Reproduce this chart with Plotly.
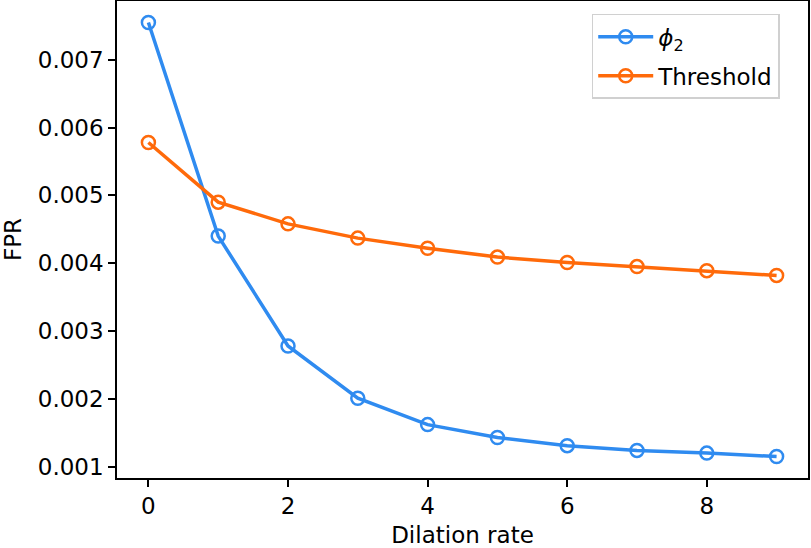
import plotly.graph_objects as go

dilation_rate = [0, 1, 2, 3, 4, 5, 6, 7, 8, 9]
phi2_fpr = [0.00755, 0.00440, 0.00278, 0.00201, 0.00162, 0.00143, 0.00131, 0.00124, 0.00120, 0.00115]
threshold_fpr = [0.00578, 0.00490, 0.00458, 0.00437, 0.00422, 0.00409, 0.00401, 0.00395, 0.00389, 0.00382]
y_ticks = [0.001, 0.002, 0.003, 0.004, 0.005, 0.006, 0.007]
x_ticks = [0, 2, 4, 6, 8]

BLUE = "#2f8bf0"
ORANGE = "#ff6a0a"
FONT = "DejaVu Sans"
FS = 23

fig = go.Figure()
fig.add_trace(go.Scatter(
    x=dilation_rate, y=phi2_fpr, mode="lines+markers", name="<i>ϕ</i><sub>2</sub>",
    legendgroup="g1",
    line=dict(color=BLUE, width=3.5),
    marker=dict(symbol="circle-open", size=13, line=dict(width=2.5, color=BLUE)),
))
fig.add_trace(go.Scatter(
    x=dilation_rate, y=threshold_fpr, mode="lines+markers", name="Threshold",
    legendgroup="g2",
    line=dict(color=ORANGE, width=3.5),
    marker=dict(symbol="circle-open", size=13, line=dict(width=2.5, color=ORANGE)),
))

fig.update_layout(
    width=811, height=548,
    margin=dict(l=117, r=3, t=1, b=70, autoexpand=False),
    paper_bgcolor="white", plot_bgcolor="white",
    font=dict(family=FONT, size=FS, color="black"),
    showlegend=True,
    legend=dict(
        x=0.687, y=0.973, xanchor="left", yanchor="top",
        bgcolor="white", bordercolor="#d0d0d0", borderwidth=1.5,
        font=dict(family=FONT, size=FS),
        itemwidth=55, tracegroupgap=6,
    ),
    xaxis=dict(
        title=dict(text="Dilation rate", font=dict(size=FS), standoff=14),
        range=[-0.45, 9.45], tickvals=x_ticks,
        showgrid=False, zeroline=False,
        showline=True, linecolor="black", linewidth=1.5, mirror=True,
        ticks="outside", ticklen=7, tickwidth=1.5, tickcolor="black",
        tickfont=dict(size=FS), automargin=False,
    ),
    yaxis=dict(
        title=dict(text="FPR", font=dict(size=FS), standoff=14),
        range=[0.000833, 0.007866], tickvals=y_ticks,
        tickformat=".3f",
        showgrid=False, zeroline=False,
        showline=True, linecolor="black", linewidth=1.5, mirror=True,
        ticks="outside", ticklen=7, tickwidth=1.5, tickcolor="black",
        tickfont=dict(size=FS), automargin=False,
    ),
)

fig.write_html(
    "out.html",
    config={"displayModeBar": False},
    post_script="document.body.style.margin='0';document.body.style.padding='0';",
)
